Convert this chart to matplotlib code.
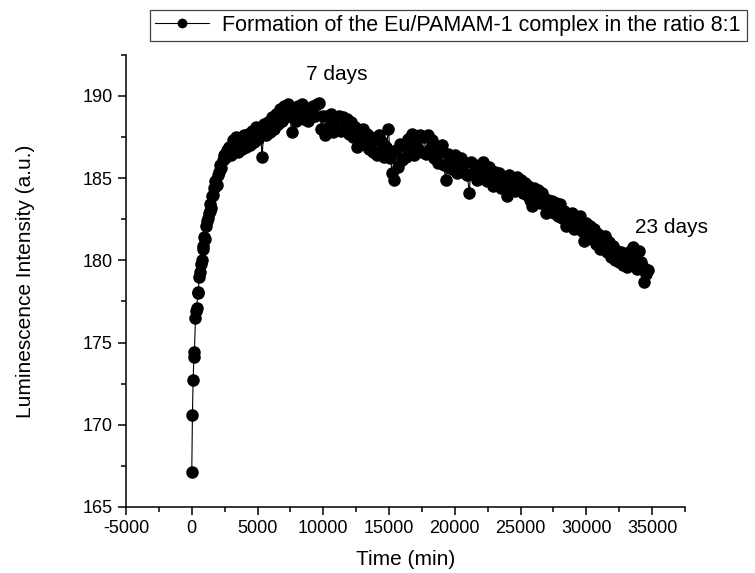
import numpy as np
import matplotlib
matplotlib.use("Agg")
import matplotlib.pyplot as plt

plt.rcParams['font.family'] = ['Liberation Sans', 'DejaVu Sans']
plt.rcParams['axes.unicode_minus'] = False

# luminescence of Eu/PAMAM-1 (8:1) followed over 23 days
time_min = [
    0, 50, 100, 160, 200, 280, 330, 380, 450, 500,
    560, 620, 680, 750, 820, 880, 950, 1010, 1080, 1150,
    1220, 1280, 1350, 1420, 1490, 1560, 1640, 1720, 1800, 1880,
    1960, 2050, 2150, 2250, 2350, 2450, 2550, 2650,
    2800, 2950, 3100, 3250, 3400, 3550, 3700, 3850, 4000, 4150,
    4300, 4450, 4600, 4750, 4900, 5050, 5200, 5350, 5500, 5650,
    5800, 5950, 6100, 6250, 6400, 6550, 6700, 6850, 7000, 7150,
    7300, 7450, 7600, 7750, 7900, 8050, 8200, 8350, 8500, 8650,
    8800, 8950, 9100, 9250, 9400, 9550, 9700, 9850, 10000, 10150,
    10300, 10450, 10600, 10750, 10900, 11050, 11200, 11350, 11500, 11650,
    11800, 11950, 12100, 12250, 12400, 12550, 12700, 12850, 13000, 13150,
    13300, 13450, 13600, 13750, 13900, 14050, 14200, 14350, 14500, 14650,
    14800, 14950, 15100, 15250, 15400, 15550, 15700, 15850, 16000, 16150,
    16300, 16450, 16600, 16750, 16900, 17050, 17200, 17350, 17500, 17650,
    17800, 17950, 18100, 18250, 18400, 18550, 18700, 18850, 19000, 19150,
    19300, 19450, 19600, 19750, 19900, 20050, 20200, 20350, 20500, 20650,
    20800, 20950, 21100, 21250, 21400, 21550, 21700, 21850, 22000, 22150,
    22300, 22450, 22600, 22750, 22900, 23050, 23200, 23350, 23500, 23650,
    23800, 23950, 24100, 24250, 24400, 24550, 24700, 24850, 25000, 25150,
    25300, 25450, 25600, 25750, 25900, 26050, 26200, 26350, 26500, 26650,
    26800, 26950, 27100, 27250, 27400, 27550, 27700, 27850, 28000, 28150,
    28300, 28450, 28600, 28750, 28900, 29050, 29200, 29350, 29500, 29650,
    29800, 29950, 30100, 30250, 30400, 30550, 30700, 30850, 31000, 31150,
    31300, 31450, 31600, 31750, 31900, 32050, 32200, 32350, 32500, 32650,
    32800, 32950, 33100, 33250, 33400, 33550, 33700, 33850, 34000, 34150,
    34300, 34400, 34550, 34650,
]
intensity = [
    167.1, 170.6, 172.7, 174.1, 174.4, 176.5, 176.9, 177.1, 178.0, 178.1,
    179.0, 179.3, 179.8, 180.0, 180.7, 180.9, 181.4, 181.3, 182.1, 182.4,
    182.6, 182.9, 183.0, 183.4, 183.2, 183.9, 184.0, 184.4, 184.8, 184.6,
    185.2, 185.4, 185.8, 185.6, 186.1, 186.4, 186.2, 186.7,
    186.9, 186.4, 187.3, 186.7, 187.5, 186.6, 187.4, 186.8, 187.6, 186.9,
    187.7, 187.0, 187.9, 187.2, 188.1, 187.4, 188.0, 186.3, 188.3, 187.6,
    188.4, 187.8, 188.7, 188.0, 188.9, 188.3, 189.2, 188.5, 189.4, 188.7,
    189.5, 188.8, 187.8, 189.3, 188.5, 189.4, 188.8, 189.5, 188.6, 189.2,
    188.5, 189.3, 188.7, 189.4, 188.8, 189.5, 189.6, 188.0, 188.8, 187.6,
    188.8, 188.1, 188.9, 187.8, 188.6, 188.0, 188.8, 187.9, 188.7, 188.1,
    188.6, 187.7, 188.4, 187.5, 188.1, 186.9, 187.8, 187.2, 188.0, 187.0,
    187.7, 186.8, 187.5, 186.6, 187.3, 186.4, 187.6, 186.7, 187.2, 186.3,
    186.9, 188.0, 186.2, 185.3, 184.9, 186.7, 185.7, 187.1, 186.1, 187.0,
    186.3, 187.4, 186.7, 187.7, 186.4, 187.3, 186.8, 187.6, 186.6, 187.5,
    186.5, 187.6, 186.8, 187.3, 186.2, 186.9, 185.9, 186.6, 187.0, 185.8,
    184.9, 186.5, 185.6, 186.3, 185.5, 186.4, 185.3, 186.0, 186.2, 185.4,
    185.9, 185.2, 184.1, 186.0, 185.3, 185.8, 184.9, 185.7, 185.1, 186.0,
    185.5, 184.8, 185.7, 185.0, 184.5, 185.4, 184.7, 185.3, 184.4, 185.1,
    184.8, 183.9, 185.2, 184.5, 185.0, 184.2, 185.1, 184.4, 184.9, 184.1,
    184.7, 184.0, 184.5, 183.7, 183.3, 184.4, 183.8, 184.3, 183.5, 184.1,
    183.8, 182.9, 183.7, 183.1, 183.6, 182.9, 183.5, 182.7, 183.4, 182.6,
    183.0, 182.1, 182.8, 182.3, 182.9, 181.9, 182.6, 182.0, 182.7, 181.8,
    181.2, 182.3, 181.6, 182.1, 181.3, 181.9, 181.0, 181.6, 180.7, 181.4,
    180.8, 181.5, 180.5, 181.1, 180.2, 180.9, 180.0, 180.6, 179.9, 180.5,
    179.7, 180.3, 179.6, 180.5, 179.8, 180.8, 180.2, 179.5, 180.6, 179.9,
    179.6, 178.7, 179.2, 179.4,
]

fig = plt.figure(figsize=(7.55, 5.73), dpi=100)
ax = fig.add_axes([0.1669, 0.1152, 0.7404, 0.789])

ax.plot(time_min, intensity, '-o', color='black', lw=0.8, ms=8,
        label='Formation of the Eu/PAMAM-1 complex in the ratio 8:1')

ax.set_xlim(-5000, 37500)
ax.set_ylim(165, 192.5)
ax.set_xticks(np.arange(-5000, 37501, 5000))
ax.set_xticks(np.arange(-2500, 37501, 5000), minor=True)
ax.set_yticks(np.arange(165, 191, 5))
ax.set_yticks(np.arange(167.5, 192.6, 5), minor=True)
ax.tick_params(which='major', direction='out', length=6, width=1.1, labelsize=13)
ax.tick_params(which='minor', direction='out', length=3.5, width=1.1)
for side in ['top', 'right']:
    ax.spines[side].set_visible(False)
for side in ['left', 'bottom']:
    ax.spines[side].set_linewidth(1.1)

ax.set_xlabel('Time (min)', fontsize=15, labelpad=9)
ax.set_ylabel('Luminescence Intensity (a.u.)', fontsize=15, labelpad=34)

ax.text(11000, 191.3, '7 days', fontsize=15, ha='center', va='center')
ax.text(36500, 182.0, '23 days', fontsize=15, ha='center', va='center')

leg = fig.legend(loc='center', bbox_to_anchor=(150/755, 1 - 40/573, 597/755, 29/573),
                 mode='expand', borderaxespad=0, fontsize=15.5, handlelength=2.5,
                 handletextpad=0.6, markerscale=0.75, fancybox=False,
                 edgecolor='#444444', framealpha=1, borderpad=0.25)
leg.get_frame().set_linewidth(0.9)

fig.savefig('out.png', dpi=100)
